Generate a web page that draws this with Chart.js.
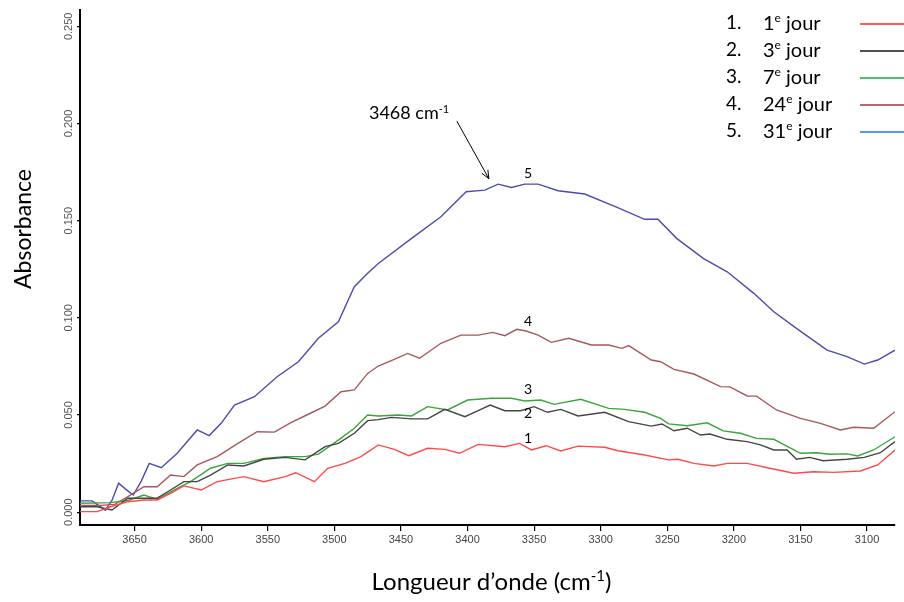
<!DOCTYPE html>
<html>
<head>
<meta charset="utf-8">
<script src="https://cdn.jsdelivr.net/npm/chart.js@4.4.0/dist/chart.umd.min.js"></script>
<style>
  html, body { margin: 0; padding: 0; background: #fff; }
  #wrap { width: 904px; height: 602px; position: relative; }
</style>
</head>
<body>
<div id="wrap"><canvas id="c" width="904" height="602"></canvas></div>
<script>
// IR absorbance spectra (O-H stretching region) recorded over 31 days.
// Wavenumbers in cm-1, absorbance in arbitrary units.

const wn1 = [3692,3678,3668,3655,3643,3633,3623,3613,3600,3588,3568,3553,3537,3529,3515,3505,3492,3480,3467,3455,3444,3430,3417,3406,3392,3372,3361,3352,3341,3330,3317,3297,3287,3267,3249,3242,3230,3215,3205,3190,3173,3155,3140,3125,3105,3092,3079];
const abs1 = [0.0003,0.0003,0.0028,0.0054,0.0063,0.0063,0.0097,0.0135,0.0114,0.0157,0.0183,0.0157,0.0183,0.0203,0.0157,0.0226,0.0251,0.0286,0.0346,0.0323,0.0291,0.0329,0.0323,0.0303,0.0349,0.0337,0.0354,0.0320,0.0342,0.0315,0.0340,0.0334,0.0316,0.0294,0.0269,0.0272,0.0251,0.0238,0.0251,0.0251,0.0226,0.0200,0.0208,0.0205,0.0212,0.0243,0.0320];

const wn2 = [3692,3678,3667,3655,3643,3633,3623,3613,3603,3593,3580,3568,3553,3537,3522,3507,3497,3485,3475,3467,3457,3442,3430,3417,3402,3392,3383,3372,3360,3350,3340,3330,3317,3297,3279,3262,3254,3245,3235,3225,3218,3205,3190,3180,3170,3160,3153,3143,3133,3115,3102,3090,3079];
const abs2 = [0.0028,0.0028,0.0011,0.0072,0.0072,0.0072,0.0114,0.0157,0.0157,0.0191,0.0243,0.0238,0.0272,0.0282,0.0269,0.0337,0.0354,0.0406,0.0471,0.0476,0.0488,0.0480,0.0480,0.0529,0.0491,0.0522,0.0551,0.0522,0.0522,0.0543,0.0514,0.0529,0.0495,0.0514,0.0466,0.0443,0.0454,0.0419,0.0432,0.0397,0.0402,0.0375,0.0363,0.0346,0.0320,0.0320,0.0272,0.0282,0.0265,0.0272,0.0282,0.0306,0.0363];

const wn3 = [3692,3668,3655,3643,3633,3618,3608,3593,3580,3568,3553,3537,3522,3512,3497,3485,3475,3467,3452,3442,3430,3415,3400,3382,3367,3357,3345,3335,3315,3294,3282,3267,3255,3249,3235,3220,3208,3195,3183,3170,3150,3138,3128,3115,3107,3095,3079];
const abs3 = [0.0046,0.0049,0.0060,0.0088,0.0066,0.0123,0.0157,0.0226,0.0251,0.0251,0.0277,0.0286,0.0286,0.0299,0.0371,0.0432,0.0500,0.0495,0.0500,0.0495,0.0543,0.0526,0.0577,0.0586,0.0586,0.0572,0.0577,0.0555,0.0581,0.0534,0.0529,0.0514,0.0483,0.0454,0.0445,0.0460,0.0418,0.0406,0.0380,0.0375,0.0303,0.0306,0.0298,0.0300,0.0289,0.0320,0.0388];

const wn4 = [3692,3675,3665,3655,3643,3633,3623,3613,3603,3588,3573,3558,3545,3533,3518,3507,3495,3485,3475,3467,3455,3445,3436,3420,3405,3392,3381,3372,3363,3356,3347,3337,3324,3307,3294,3284,3279,3262,3255,3245,3230,3210,3203,3190,3183,3168,3150,3135,3120,3110,3095,3079];
const abs4 = [0.0035,0.0035,0.0040,0.0080,0.0131,0.0131,0.0191,0.0183,0.0243,0.0286,0.0351,0.0414,0.0412,0.0460,0.0509,0.0546,0.0620,0.0629,0.0714,0.0752,0.0786,0.0817,0.0792,0.0869,0.0911,0.0911,0.0925,0.0908,0.0941,0.0932,0.0911,0.0874,0.0895,0.0860,0.0860,0.0843,0.0857,0.0783,0.0774,0.0735,0.0711,0.0646,0.0645,0.0598,0.0597,0.0526,0.0483,0.0457,0.0423,0.0437,0.0432,0.0517];

const wn5 = [3692,3682,3676,3672,3667,3662,3657,3651,3645,3639,3630,3618,3603,3594,3585,3575,3560,3543,3527,3512,3497,3485,3475,3467,3442,3420,3401,3387,3377,3367,3357,3347,3332,3312,3289,3267,3257,3243,3223,3205,3185,3170,3153,3130,3115,3102,3092,3079];
const abs5 = [0.0058,0.0058,0.0030,0.0010,0.0060,0.0149,0.0120,0.0088,0.0160,0.0251,0.0229,0.0303,0.0423,0.0394,0.0457,0.0551,0.0594,0.0697,0.0774,0.0895,0.0980,0.1160,0.1229,0.1280,0.1409,0.1520,0.1649,0.1657,0.1688,0.1671,0.1688,0.1688,0.1654,0.1637,0.1572,0.1507,0.1507,0.1409,0.1306,0.1237,0.1126,0.1031,0.0946,0.0834,0.0800,0.0762,0.0783,0.0834];

const seriesNumbers = ['1', '2', '3', '4', '5'];
const legendDays = ['1', '3', '7', '24', '31'];
const xTickValues = [3650, 3600, 3550, 3500, 3450, 3400, 3350, 3300, 3250, 3200, 3150, 3100];
const yTickValues = [0, 0.05, 0.10, 0.15, 0.20, 0.25];

// Curve number labels, placed in data space just above each curve
const curveLabelWn = 3354.5;
const curveLabelAbs = [0.0380, 0.0510, 0.0629, 0.0980, 0.1745];

// Peak annotation
const peakLabel = '3468';
const peakTextAt = { wn: 3474, abs: 0.2021 };
const peakArrowFrom = { wn: 3408, abs: 0.2012 };
const peakArrowTo = { wn: 3384, abs: 0.1716 };

const lineColors = ['#ff4a4a', '#454545', '#3aa53a', '#a8585c', '#4c4cae'];
const legendColors = ['#ff5b5b', '#505050', '#4cc06a', '#b06c6c', '#5b9bd5'];

const wnSets = [wn1, wn2, wn3, wn4, wn5];
const absSets = [abs1, abs2, abs3, abs4, abs5];

const datasets = wnSets.map((wn, i) => ({
  label: seriesNumbers[i],
  data: wn.map((w, k) => ({ x: w, y: absSets[i][k] })),
  borderColor: lineColors[i],
  borderWidth: 1.4,
  pointRadius: 0,
  tension: 0,
  fill: false
}));

const TEXT_FONT = 'Lato, "Open Sans", sans-serif';

// Draws a run of text pieces, some raised as superscripts; returns width.
function drawRich(ctx, pieces, x, y, size, align) {
  let total = 0;
  const widths = pieces.map(p => {
    ctx.font = (p.sup ? Math.round(size * 0.62) : size) + 'px ' + TEXT_FONT;
    const w = ctx.measureText(p.t).width;
    total += w;
    return w;
  });
  let cx = x;
  if (align === 'center') cx = x - total / 2;
  else if (align === 'right') cx = x - total;
  ctx.textBaseline = 'alphabetic';
  ctx.textAlign = 'left';
  pieces.forEach((p, i) => {
    ctx.font = (p.sup ? Math.round(size * 0.62) : size) + 'px ' + TEXT_FONT;
    ctx.fillText(p.t, cx, p.sup ? y - size * 0.36 : y);
    cx += widths[i];
  });
  return total;
}

const overlayPlugin = {
  id: 'overlay',
  afterDraw(chart) {
    const ctx = chart.ctx;
    const xs = chart.scales.x, ys = chart.scales.y;
    ctx.save();
    ctx.fillStyle = '#000';

    // curve numbers
    ctx.font = '14px ' + TEXT_FONT;
    ctx.textAlign = 'center';
    ctx.textBaseline = 'middle';
    curveLabelAbs.forEach((a, i) => {
      ctx.fillText(seriesNumbers[i], xs.getPixelForValue(curveLabelWn), ys.getPixelForValue(a));
    });

    // peak annotation text
    drawRich(ctx, [{ t: peakLabel + ' cm' }, { t: '-1', sup: true }],
      xs.getPixelForValue(peakTextAt.wn), ys.getPixelForValue(peakTextAt.abs), 18, 'left');

    // arrow
    const x0 = xs.getPixelForValue(peakArrowFrom.wn), y0 = ys.getPixelForValue(peakArrowFrom.abs);
    const x1 = xs.getPixelForValue(peakArrowTo.wn), y1 = ys.getPixelForValue(peakArrowTo.abs);
    ctx.strokeStyle = '#000';
    ctx.lineWidth = 1;
    ctx.beginPath();
    ctx.moveTo(x0, y0);
    ctx.lineTo(x1, y1);
    const ang = Math.atan2(y1 - y0, x1 - x0);
    const hl = 9;
    ctx.moveTo(x1, y1);
    ctx.lineTo(x1 - hl * Math.cos(ang - 0.4), y1 - hl * Math.sin(ang - 0.4));
    ctx.moveTo(x1, y1);
    ctx.lineTo(x1 - hl * Math.cos(ang + 0.4), y1 - hl * Math.sin(ang + 0.4));
    ctx.stroke();

    // legend
    legendDays.forEach((d, i) => {
      const y = 23 + 27 * i;
      ctx.fillStyle = '#000';
      ctx.font = '19px ' + TEXT_FONT;
      ctx.textAlign = 'left';
      ctx.textBaseline = 'middle';
      ctx.fillText(seriesNumbers[i] + '.', 726, y);
      drawRich(ctx, [{ t: d }, { t: 'e', sup: true }, { t: ' jour' }], 763, y + 6.5, 20, 'left');
      ctx.strokeStyle = legendColors[i];
      ctx.lineWidth = 2;
      ctx.beginPath();
      ctx.moveTo(860, y + 1);
      ctx.lineTo(904, y + 1);
      ctx.stroke();
    });

    // axis titles
    ctx.fillStyle = '#000';
    const midX = (chart.chartArea.left + chart.chartArea.right) / 2 + 4;
    drawRich(ctx, [{ t: 'Longueur d\u2019onde (cm' }, { t: '-1', sup: true }, { t: ')' }], midX, 590, 24, 'center');

    ctx.translate(31, 229);
    ctx.rotate(-Math.PI / 2);
    drawRich(ctx, [{ t: 'Absorbance' }], 0, 0, 23, 'center');

    ctx.restore();
  }
};

new Chart(document.getElementById('c'), {
  type: 'line',
  data: { datasets },
  options: {
    responsive: false,
    animation: false,
    devicePixelRatio: 1,
    layout: { padding: { top: 10, right: 9, left: 0, bottom: 0 } },
    plugins: { legend: { display: false }, tooltip: { enabled: false } },
    scales: {
      x: {
        type: 'linear',
        reverse: true,
        min: 3079,
        max: 3691,
        afterBuildTicks: s => { s.ticks = xTickValues.map(v => ({ value: v })); },
        afterFit: s => { s.height = 77; },
        border: { display: true, color: '#000', width: 2 },
        grid: { display: true, drawOnChartArea: false, drawTicks: true, tickLength: 6, color: '#000', lineWidth: 1.2 },
        ticks: {
          font: { family: '"Liberation Sans", Arial, sans-serif', size: 11 },
          color: '#444',
          padding: 2,
          minRotation: 0,
          maxRotation: 0,
          callback: v => String(v)
        }
      },
      y: {
        type: 'linear',
        min: -0.0066,
        max: 0.2584,
        afterBuildTicks: s => { s.ticks = yTickValues.map(v => ({ value: v })); },
        afterFit: s => { s.width = 80; },
        border: { display: true, color: '#000', width: 2 },
        grid: { display: true, drawOnChartArea: false, drawTicks: true, tickLength: 3, color: '#000', lineWidth: 1.2 },
        ticks: {
          font: { family: '"Liberation Sans", Arial, sans-serif', size: 11 },
          color: '#555',
          minRotation: 90,
          maxRotation: 90,
          crossAlign: 'center',
          padding: -6,
          callback: v => Number(v).toFixed(3)
        }
      }
    }
  },
  plugins: [overlayPlugin]
});
</script>
</body>
</html>
